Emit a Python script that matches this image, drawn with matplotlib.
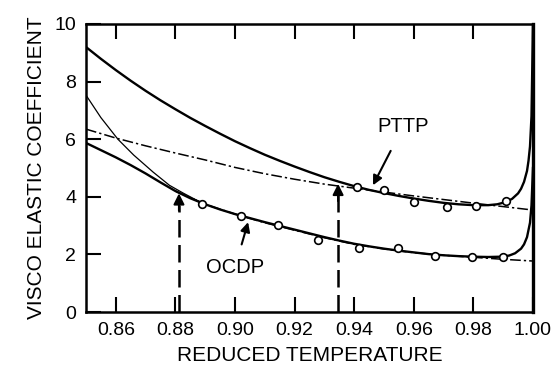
import matplotlib
matplotlib.use('Agg')
import matplotlib.pyplot as plt

# values
# PTTP fitted curve (solid, heavy)
pttp_fit_t = [0.850, 0.855, 0.860, 0.865, 0.870, 0.875, 0.880, 0.885, 0.890, 0.895,
              0.900, 0.905, 0.910, 0.915, 0.920, 0.925, 0.930, 0.935, 0.940, 0.945,
              0.950, 0.955, 0.960, 0.965, 0.970, 0.975, 0.980, 0.985, 0.988, 0.991,
              0.993, 0.995, 0.996, 0.997, 0.998, 0.9985, 0.999, 0.9995, 1.000]
pttp_fit_y = [9.20, 8.79, 8.40, 8.03, 7.68, 7.35, 7.04, 6.74, 6.46, 6.19,
              5.93, 5.69, 5.46, 5.25, 5.05, 4.86, 4.68, 4.52, 4.37, 4.24,
              4.13, 4.03, 3.94, 3.86, 3.79, 3.74, 3.71, 3.71, 3.74, 3.82,
              3.93, 4.12, 4.28, 4.52, 4.90, 5.25, 5.75, 6.80, 10.0]

# PTTP dash-dot curve
pttp_dd_t = [0.850, 0.860, 0.870, 0.880, 0.890, 0.900, 0.910, 0.920, 0.930, 0.940,
             0.960, 0.980, 1.000]
pttp_dd_y = [6.35, 6.04, 5.77, 5.52, 5.28, 5.02, 4.80, 4.61, 4.44, 4.30,
             4.03, 3.78, 3.54]

# OCDP fitted curve (solid, heavy)
ocdp_fit_t = [0.850, 0.855, 0.860, 0.865, 0.870, 0.875, 0.880, 0.885, 0.890, 0.895,
              0.900, 0.905, 0.910, 0.915, 0.920, 0.925, 0.930, 0.935, 0.940, 0.945,
              0.950, 0.955, 0.960, 0.965, 0.970, 0.975, 0.980, 0.985, 0.989, 0.992,
              0.994, 0.996, 0.997, 0.998, 0.999, 0.9995, 1.000]
ocdp_fit_y = [5.87, 5.62, 5.37, 5.10, 4.81, 4.50, 4.20, 3.95, 3.74, 3.56,
              3.40, 3.26, 3.12, 2.99, 2.86, 2.73, 2.60, 2.48, 2.37, 2.28,
              2.20, 2.13, 2.07, 2.01, 1.97, 1.94, 1.92, 1.91, 1.92, 1.96,
              2.04, 2.20, 2.35, 2.60, 3.10, 3.70, 5.00]

# OCDP dash-dot curve
ocdp_dd_t = [0.880, 0.890, 0.900, 0.910, 0.920, 0.930, 0.940, 0.950, 0.960, 0.970,
             0.980, 0.990, 1.000]
ocdp_dd_y = [4.20, 3.74, 3.40, 3.10, 2.84, 2.58, 2.35, 2.19, 2.06, 1.97,
             1.90, 1.83, 1.77]

# thin steep curve at low temperature
thin_t = [0.850, 0.855, 0.8607, 0.866, 0.8725, 0.878, 0.8826, 0.889]
thin_y = [7.53, 6.75, 6.00, 5.45, 4.86, 4.40, 4.13, 3.78]

# measured points (open circles)
pttp_t = [0.941, 0.950, 0.960, 0.971, 0.981, 0.991]
pttp_y = [4.34, 4.24, 3.82, 3.64, 3.68, 3.85]
ocdp_t = [0.889, 0.902, 0.9145, 0.928, 0.9416, 0.9547, 0.967, 0.9795, 0.990]
ocdp_y = [3.75, 3.33, 3.02, 2.50, 2.22, 2.22, 1.95, 1.91, 1.91]

# transition temperatures marked with dashed arrows
arrow_t = [0.8812, 0.9346]
arrow_y = [4.12, 4.45]

xticks = [0.86, 0.88, 0.90, 0.92, 0.94, 0.96, 0.98, 1.00]
yticks = [0, 2, 4, 6, 8, 10]

plt.rcParams['font.family'] = ['Liberation Sans', 'DejaVu Sans']

fig = plt.figure(figsize=(5.53, 3.73), dpi=100)
ax = fig.add_axes([0.1555, 0.1635, 0.8083, 0.7722])

dd = (0, (7, 2, 1.5, 2))
ax.plot(pttp_dd_t, pttp_dd_y, color='black', lw=1.1, linestyle=dd)
ax.plot(ocdp_dd_t, ocdp_dd_y, color='black', lw=1.1, linestyle=dd)
ax.plot(thin_t, thin_y, color='black', lw=0.9)
ax.plot(pttp_fit_t, pttp_fit_y, color='black', lw=1.7)
ax.plot(ocdp_fit_t, ocdp_fit_y, color='black', lw=1.7)

ax.plot(pttp_t, pttp_y, 'o', mfc='white', mec='black', ms=5.5, mew=1.2)
ax.plot(ocdp_t, ocdp_y, 'o', mfc='white', mec='black', ms=5.5, mew=1.2)

for t, y in zip(arrow_t, arrow_y):
    ax.plot([t, t], [0, y - 0.4], color='black', lw=1.8, linestyle=(0, (7, 3)))
    ax.annotate('', xy=(t, y), xytext=(t, y - 0.6),
                arrowprops=dict(arrowstyle='-|>', color='black', lw=1.5,
                                mutation_scale=16, shrinkA=0, shrinkB=0))

ax.annotate('PTTP', xy=(0.9463, 4.40), xytext=(0.9565, 6.45),
            ha='center', va='center', fontsize=14.5,
            arrowprops=dict(arrowstyle='-|>', color='black', lw=1.5,
                            mutation_scale=14, shrinkA=10, shrinkB=0))
ax.annotate('OCDP', xy=(0.9044, 3.12), xytext=(0.9000, 1.55),
            ha='center', va='center', fontsize=14.5,
            arrowprops=dict(arrowstyle='-|>', color='black', lw=1.5,
                            mutation_scale=14, shrinkA=8, shrinkB=0))

ax.set_xlim(0.85, 1.00)
ax.set_ylim(0, 10)
ax.set_xticks(xticks)
ax.set_xticklabels(['%.2f' % v for v in xticks])
ax.set_yticks(yticks)
ax.tick_params(direction='in', length=11, width=1.5, labelsize=14,
               top=True, right=False, pad=7)
for s in ['left', 'bottom', 'top']:
    ax.spines[s].set_linewidth(1.8)
ax.spines['right'].set_linewidth(2.4)

ax.set_xlabel('REDUCED TEMPERATURE', fontsize=15, labelpad=5)
ax.set_ylabel('VISCO ELASTIC COEFFICIENT', fontsize=15, labelpad=6)

plt.savefig('out.png', dpi=100)
